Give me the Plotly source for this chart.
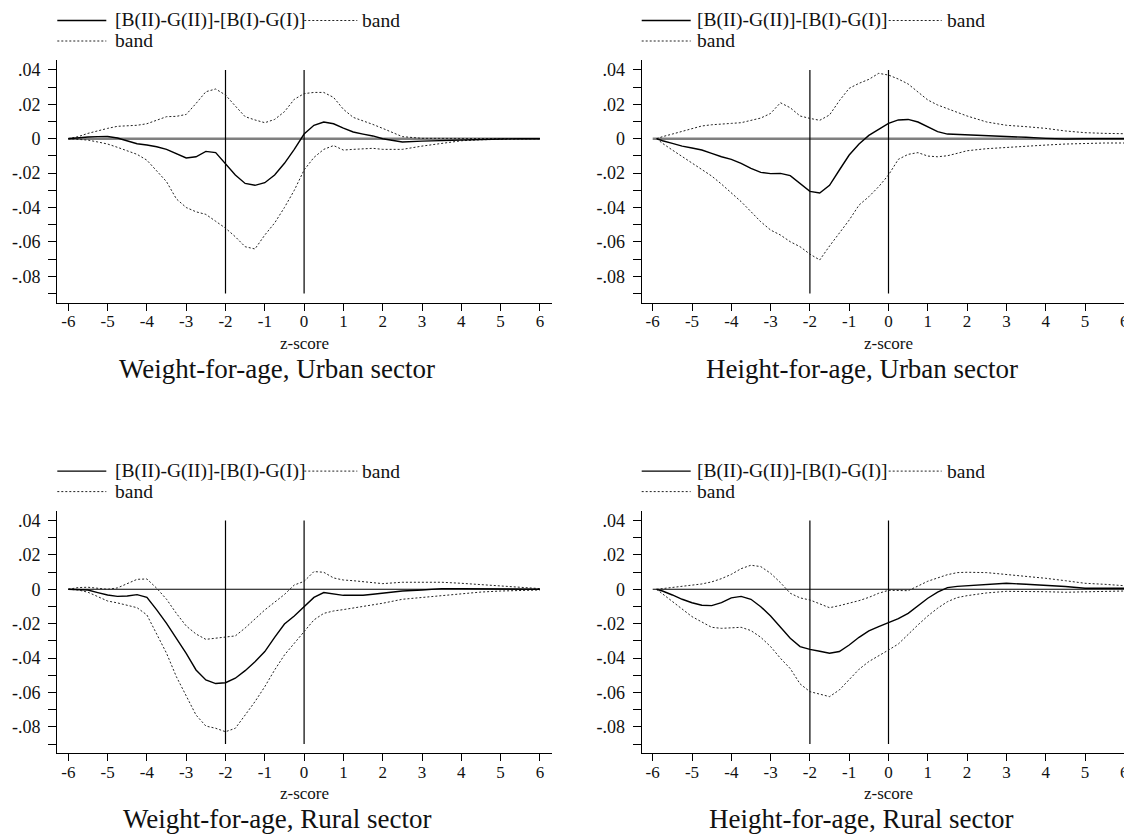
import plotly.graph_objects as go

# ---------------- data ----------------
z_left = [-6, -5.75, -5.5, -5.25, -5, -4.75, -4.5, -4.25, -4, -3.75, -3.5, -3.25, -3, -2.75, -2.5, -2.25,
          -2, -1.75, -1.5, -1.25, -1, -0.75, -0.5, -0.25, 0, 0.25, 0.5, 0.75, 1, 1.25, 1.5, 1.75, 2,
          2.5, 3, 3.5, 4, 4.5, 5, 5.5, 6]
z_right = [-5.9] + z_left[1:]

# Weight-for-age, Urban
wu_diff = [0, .0006, .0010, .0012, .0013, .0004, -.0014, -.0029, -.0037, -.0047, -.0062, -.0085, -.0112,
           -.0105, -.0074, -.0081, -.0143, -.0211, -.0260, -.0271, -.0256, -.0211, -.0143, -.0062, .0027,
           .0078, .0097, .0087, .0062, .0039, .0027, .0016, 0, -.0019, -.0014, -.0010, -.0006, -.0004,
           -.0002, 0, 0]
wu_up = [0, .0012, .0031, .0047, .0060, .0072, .0076, .0078, .0087, .0109, .0128, .0130, .0141, .0205,
         .0273, .0289, .0254, .0190, .0128, .0109, .0093, .0112, .0157, .0229, .0262, .0269, .0269, .0240,
         .0171, .0124, .0105, .0083, .0060, .0012, .0002, .0001, 0, 0, 0, 0, 0]
wu_lo = [0, -.0002, -.0008, -.0019, -.0031, -.0050, -.0070, -.0091, -.0125, -.0190, -.0250, -.0350,
         -.0400, -.0425, -.0440, -.0480, -.0520, -.0570, -.0628, -.0641, -.0560, -.0490, -.0400, -.0300,
         -.0182, -.0109, -.0062, -.0040, -.0066, -.0062, -.0058, -.0056, -.0062, -.0062, -.0043, -.0027,
         -.0012, -.0006, -.0004, -.0002, 0]

# Height-for-age, Urban
hu_diff = [0, -.0012, -.0027, -.0043, -.0054, -.0066, -.0085, -.0105, -.0120, -.0143, -.0172, -.0196,
           -.0203, -.0202, -.0215, -.0260, -.0306, -.0316, -.0271, -.0182, -.0095, -.0031, .0019, .0054,
           .0089, .0109, .0112, .0097, .0070, .0041, .0027, .0025, .0021, .0016, .0012, .0008, .0002,
           -.0002, 0, 0, 0]
hu_up = [0, .0012, .0027, .0043, .0056, .0074, .0081, .0087, .0089, .0093, .0105, .0120, .0147, .0209,
         .0180, .0132, .0118, .0107, .0138, .0221, .0293, .0322, .0345, .0380, .0370, .0347, .0318, .0273,
         .0225, .0196, .0176, .0153, .0132, .0097, .0078, .0070, .0060, .0045, .0035, .0031, .0029]
hu_lo = [0, -.0027, -.0066, -.0105, -.0143, -.0178, -.0217, -.0264, -.0314, -.0366, -.0424, -.0483,
         -.0531, -.0560, -.0599, -.0628, -.0671, -.0705, -.0624, -.0547, -.0473, -.0386, -.0337, -.0279,
         -.0211, -.0120, -.0091, -.0081, -.0101, -.0105, -.0099, -.0085, -.0070, -.0058, -.0050, -.0043,
         -.0037, -.0031, -.0027, -.0025, -.0025]

# Weight-for-age, Rural
wr_diff = [0, 0, -.0004, -.0019, -.0033, -.0041, -.0039, -.0031, -.0047, -.0120, -.0198, -.0285, -.0372,
           -.0469, -.0527, -.0548, -.0543, -.0517, -.0473, -.0421, -.0362, -.0279, -.0202, -.0155, -.0101,
           -.0047, -.0019, -.0025, -.0035, -.0035, -.0035, -.0029, -.0023, -.0010, -.0004, .0004, .0004,
           .0002, .0002, 0, 0]
wr_up = [0, .0010, .0012, .0004, 0, .0008, .0031, .0058, .0060, .0006, -.0058, -.0140, -.0213, -.0260,
         -.0291, -.0283, -.0279, -.0271, -.0225, -.0170, -.0120, -.0075, -.0030, .0025, .0046, .0103,
         .0099, .0066, .0054, .0050, .0045, .0039, .0033, .0041, .0043, .0041, .0035, .0027, .0019, .0012,
         .0004]
wr_lo = [0, -.0004, -.0017, -.0043, -.0068, -.0079, -.0091, -.0107, -.0149, -.0256, -.0372, -.0508,
         -.0620, -.0731, -.0795, -.0808, -.0828, -.0808, -.0731, -.0653, -.0566, -.0469, -.0382, -.0314,
         -.0252, -.0178, -.0140, -.0126, -.0118, -.0109, -.0101, -.0091, -.0081, -.0058, -.0047, -.0035,
         -.0023, -.0016, -.0010, -.0006, -.0004]

# Height-for-age, Rural
hr_diff = [0, -.0010, -.0033, -.0058, -.0078, -.0093, -.0095, -.0078, -.0050, -.0041, -.0058, -.0101,
           -.0155, -.0221, -.0285, -.0333, -.0349, -.0360, -.0372, -.0362, -.0324, -.0279, -.0242, -.0217,
           -.0194, -.0171, -.0140, -.0097, -.0052, -.0016, .0010, .0017, .0021, .0029, .0035, .0029, .0023,
           .0016, .0006, .0006, .0006]
hr_up = [0, .0004, .0008, .0014, .0023, .0031, .0043, .0062, .0087, .0120, .0140, .0132, .0093, .0039,
         -.0023, -.0050, -.0062, -.0085, -.0107, -.0095, -.0081, -.0066, -.0047, -.0023, -.0006, -.0006,
         -.0008, .0019, .0047, .0066, .0085, .0097, .0099, .0097, .0087, .0074, .0064, .0050, .0035,
         .0029, .0021]
hr_lo = [0, -.0027, -.0072, -.0116, -.0159, -.0190, -.0221, -.0227, -.0223, -.0221, -.0240, -.0279,
         -.0333, -.0401, -.0461, -.0550, -.0595, -.0609, -.0624, -.0585, -.0523, -.0465, -.0420, -.0388,
         -.0353, -.0318, -.0260, -.0207, -.0155, -.0110, -.0072, -.0048, -.0037, -.0021, -.0012, -.0012,
         -.0014, -.0017, -.0016, -.0012, -.0010]

panel_titles = ["Weight-for-age, Urban sector", "Height-for-age, Urban sector",
                "Weight-for-age, Rural sector", "Height-for-age, Rural sector"]
x_tick_vals = [-6, -5, -4, -3, -2, -1, 0, 1, 2, 3, 4, 5, 6]
x_tick_text = ["-6", "-5", "-4", "-3", "-2", "-1", "0", "1", "2", "3", "4", "5", "6"]
y_tick_vals = [.04, .03, .02, .01, 0, -.01, -.02, -.03, -.04, -.05, -.06, -.07, -.08, -.09]
y_tick_text = [".04", "", ".02", "", "0", "", "-.02", "", "-.04", "", "-.06", "", "-.08", ""]
cutoffs = [-2, 0]
ref_y_span = [.04, -.09]
zero_span = [-6, 6]
legend_main = "[B(II)-G(II)]-[B(I)-G(I)]"
legend_band = "band"
x_title = "z-score"

# ---------------- layout constants ----------------
PAGE_W, PAGE_H = 1132, 834
OFF = 8                      # default body margin of the html page
W, H = PAGE_W - OFF, PAGE_H - OFF
FONT = "Liberation Serif"
UNIT_X = 39.3         # px per z unit
UNIT_Y = 1720.0       # px per y unit
PAD_X = 11.0          # px between y axis line and -6 tick
AXIS_LEN = 494.4
panels = [
    dict(z=z_left, d=wu_diff, u=wu_up, l=wu_lo, x0=57.3, top=60.0, zero=138.7, bot=302.7, zc="#7f7f7f", zw=2.4, lg=56),
    dict(z=z_right, d=hu_diff, u=hu_up, l=hu_lo, x0=641.7, top=60.0, zero=138.7, bot=302.7, zc="#7f7f7f", zw=2.4, lg=53),
    dict(z=z_left, d=wr_diff, u=wr_up, l=wr_lo, x0=57.3, top=510.6, zero=589.3, bot=753.3, zc="#000000", zw=1.1, lg=56),
    dict(z=z_right, d=hr_diff, u=hr_up, l=hr_lo, x0=641.7, top=510.6, zero=589.3, bot=753.3, zc="#000000", zw=1.1, lg=53),
]

fig = go.Figure()
shapes = []
annotations = []


def px(xp):
    """page pixel x -> paper fraction"""
    return (xp - OFF) / W


def py(yp):
    """page pixel y -> paper fraction"""
    return 1 - (yp - OFF) / H


for i, p in enumerate(panels):
    n = "" if i == 0 else str(i + 1)
    xa, ya = "x" + n, "y" + n
    x_right_px = min(p["x0"] + AXIS_LEN, PAGE_W)
    xr0 = -6 - PAD_X / UNIT_X
    xr1 = xr0 + (x_right_px - p["x0"]) / UNIT_X
    yr1 = (p["zero"] - p["top"]) / UNIT_Y
    yr0 = -(p["bot"] - p["zero"]) / UNIT_Y

    # zero line and cutoff lines
    fig.add_trace(go.Scatter(x=zero_span, y=[0, 0], mode="lines", xaxis=xa, yaxis=ya,
                             line=dict(color=p["zc"], width=p["zw"]), showlegend=False, hoverinfo="skip"))
    for c in cutoffs:
        fig.add_trace(go.Scatter(x=[c, c], y=ref_y_span, mode="lines", xaxis=xa, yaxis=ya,
                                 line=dict(color="black", width=1.2), showlegend=False, hoverinfo="skip"))
    # bands
    for band in (p["u"], p["l"]):
        fig.add_trace(go.Scatter(x=p["z"], y=band, mode="lines", xaxis=xa, yaxis=ya, name=legend_band,
                                 line=dict(color="#222222", width=1, dash="2px,2px"), showlegend=False))
    fig.add_trace(go.Scatter(x=p["z"], y=p["d"], mode="lines", xaxis=xa, yaxis=ya, name=legend_main,
                             line=dict(color="black", width=1.4), showlegend=False))

    axis_common = dict(showgrid=False, zeroline=False, showline=True, linecolor="black", linewidth=1.2,
                       ticks="outside", tickcolor="black", tickwidth=1.2)
    fig.layout["xaxis" + n] = dict(axis_common, domain=[px(p["x0"]), min(px(x_right_px), 1.0)],
                                   range=[xr0, xr1], anchor=ya, tickvals=x_tick_vals, ticktext=x_tick_text,
                                   ticklen=7, ticklabelstandoff=-4,
                                   tickfont=dict(family=FONT, size=17, color="#111111"))
    fig.layout["yaxis" + n] = dict(axis_common, domain=[py(p["bot"]), py(p["top"])], range=[yr0, yr1],
                                   anchor=xa, tickvals=y_tick_vals, ticktext=y_tick_text, ticklen=8,
                                   ticklabelstandoff=4,
                                   tickfont=dict(family=FONT, size=18, color="#111111"))

    # axis title and panel caption
    axis_mid = p["x0"] + AXIS_LEN / 2
    annotations.append(dict(text=x_title, x=px(axis_mid), y=py(p["bot"] + 40.5), xref="paper", yref="paper",
                            showarrow=False, xanchor="center", yanchor="middle",
                            font=dict(family=FONT, size=17, color="#111111")))
    annotations.append(dict(text=panel_titles[i], x=px(p["x0"] + 220), y=py(p["bot"] + 66), xref="paper",
                            yref="paper", showarrow=False, xanchor="center", yanchor="middle",
                            font=dict(family=FONT, size=27, color="#111111")))

    # legend (drawn manually, Stata style)
    row1 = p["top"] - 39.5
    row2 = p["top"] - 19.0
    lx = p["x0"]
    shapes.append(dict(type="line", xref="paper", yref="paper", x0=px(lx), x1=px(lx + 49), y0=py(row1), y1=py(row1),
                       line=dict(color="black", width=1.4)))
    annotations.append(dict(text=legend_main, x=px(lx + p["lg"]), y=py(row1), xref="paper", yref="paper",
                            showarrow=False, xanchor="left", yanchor="middle",
                            font=dict(family=FONT, size=19.5, color="#111111")))
    shapes.append(dict(type="line", xref="paper", yref="paper", x0=px(lx + 247), x1=px(lx + 300), y0=py(row1),
                       y1=py(row1), line=dict(color="#222222", width=1, dash="2px,2px")))
    annotations.append(dict(text=legend_band, x=px(lx + 303), y=py(row1), xref="paper", yref="paper",
                            showarrow=False, xanchor="left", yanchor="middle",
                            font=dict(family=FONT, size=19.5, color="#111111")))
    shapes.append(dict(type="line", xref="paper", yref="paper", x0=px(lx), x1=px(lx + 49), y0=py(row2), y1=py(row2),
                       line=dict(color="#222222", width=1, dash="2px,2px")))
    annotations.append(dict(text=legend_band, x=px(lx + p["lg"]), y=py(row2), xref="paper", yref="paper",
                            showarrow=False, xanchor="left", yanchor="middle",
                            font=dict(family=FONT, size=19.5, color="#111111")))

fig.update_layout(width=W, height=H, autosize=False, margin=dict(l=0, r=0, t=0, b=0, pad=0),
                  paper_bgcolor="white", plot_bgcolor="white", showlegend=False,
                  shapes=shapes, annotations=annotations)

fig.write_html("out.html")
